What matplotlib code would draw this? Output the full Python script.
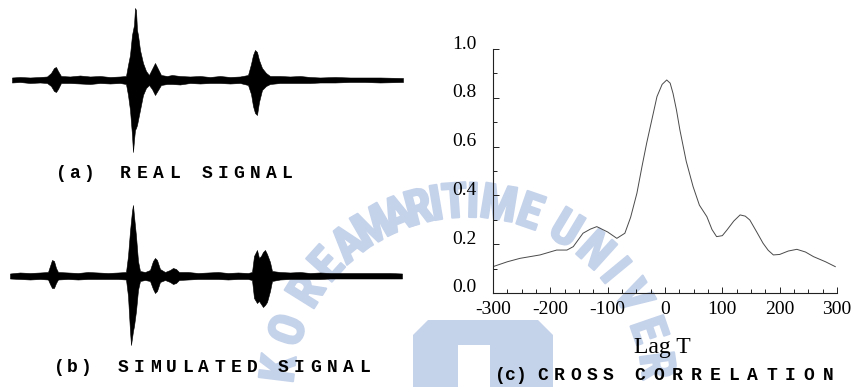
import matplotlib
matplotlib.use("Agg")
import matplotlib.pyplot as plt
import matplotlib.patheffects as pe
import numpy as np
from matplotlib.patches import Polygon
from matplotlib.transforms import IdentityTransform, ScaledTranslation

# envelope of the recorded trace (a): sample index, upper and lower excursion
s_real = [4, 12, 22, 32, 39, 43, 46, 48, 50, 53, 62, 72, 82, 92, 102, 112,
          118, 120, 122, 124, 125, 126, 127, 128, 129, 130, 132, 135, 138, 141,
          144, 147, 150, 153, 159, 164, 172, 182, 192, 202, 212, 222, 232, 240,
          243, 245, 247, 249, 251, 254, 258, 262, 272, 282, 292, 302, 312, 327,
          342, 357, 372, 395]
up_real = [2.5, 3, 2.5, 3, 3.5, 7, 12, 13, 9, 4, 3.5, 4.5, 3.5, 4, 3, 3.5,
           4, 15, 25, 45, 50, 55, 72, 70, 50, 45, 30, 17, 9, 5,
           11, 17, 11, 5, 4, 5, 4, 3.5, 4, 3, 4, 3, 3.5, 5,
           16, 25, 30, 28, 20, 12, 7, 4, 4, 3.5, 4, 3, 2.5, 3,
           2.5, 2.5, 2.5, 2]
lo_real = [2.5, 2, 3, 2.5, 3, 6, 11, 12, 9, 3, 3, 3.5, 4, 3, 3.5, 3,
           4, 15, 30, 55, 72, 60, 50, 48, 45, 40, 30, 15, 8, 5,
           9, 15, 10, 5, 4, 4, 4.5, 3, 3.5, 3, 3, 3.5, 3, 5,
           14, 26, 33, 35, 22, 10, 6, 4, 3, 3, 3, 3, 2.5, 2.5,
           2, 2, 2.5, 2]

# envelope of the simulated trace (b)
s_sim = [2, 12, 22, 32, 40, 42, 44, 46, 48, 50, 60, 70, 80, 90, 100, 110,
         118, 120, 122, 123, 124, 125, 126, 128, 130, 132, 137, 142, 145, 147,
         149, 152, 157, 162, 165, 168, 171, 180, 190, 200, 210, 220, 230, 240,
         244, 246, 249, 251, 253, 255, 257, 259, 262, 264, 272, 282, 292, 302,
         312, 322, 337, 352, 367, 382, 394]
up_sim = [2.5, 3.5, 3, 3.5, 4, 10, 16, 15, 8, 4, 3.5, 3, 4, 3.5, 3, 3.5,
          4, 20, 45, 55, 65, 71, 60, 40, 15, 5, 4, 6, 15, 18,
          16, 7, 4, 6, 8, 7, 4, 4, 3, 3.5, 4, 3, 3.5, 3,
          4, 20, 26, 18, 20, 24, 26, 22, 14, 5, 4, 3.5, 4, 3,
          3.5, 3, 3, 3, 3, 3, 2.5]
lo_sim = [2.5, 3, 3.5, 3, 3.5, 8, 12, 12, 7, 3.5, 3, 3.5, 3, 3, 3, 3,
          3.5, 20, 55, 69, 62, 55, 50, 35, 14, 5, 4, 5, 13, 17,
          15, 6, 4, 6, 8, 7, 4, 3.5, 3, 3, 3, 3.5, 3, 3,
          4, 22, 27, 25, 28, 31, 29, 26, 15, 5, 3.5, 3, 3, 3,
          3, 2.5, 2.5, 2.5, 2.5, 2.5, 2.5]

# cross correlation of the two traces
lag = [-300, -275, -253, -218, -189, -171, -160, -143, -130, -119, -100, -84,
       -70, -60, -49, -40, -32, -22, -14, -5, 3, 9, 14, 20, 26, 37, 49, 60,
       73, 82, 90, 100, 108, 120, 131, 140, 148, 160, 171, 180, 189, 200,
       215, 230, 245, 259, 280, 297]
corr = [0.108, 0.128, 0.142, 0.156, 0.176, 0.176, 0.19, 0.245, 0.262, 0.272,
        0.25, 0.224, 0.245, 0.31, 0.409, 0.52, 0.614, 0.72, 0.805, 0.855,
        0.873, 0.86, 0.818, 0.75, 0.668, 0.54, 0.436, 0.36, 0.313, 0.26,
        0.231, 0.235, 0.258, 0.295, 0.32, 0.315, 0.299, 0.25, 0.204, 0.175,
        0.156, 0.158, 0.172, 0.179, 0.168, 0.149, 0.128, 0.108]

lag_ticks = [-300, -200, -100, 0, 100, 200, 300]
corr_ticks = [0.0, 0.2, 0.4, 0.6, 0.8, 1.0]

W, H = 854, 387
fig = plt.figure(figsize=(W / 100, H / 100), dpi=100)
fig.patch.set_facecolor("white")


def px_box(x0, y0, x1, y1):
    # pixel box (top-left origin) -> figure fraction rect
    return [x0 / W, 1 - y1 / H, (x1 - x0) / W, (y1 - y0) / H]


def spaced(word, x_first, x_last, y, **kw):
    n = len(word)
    for i, ch in enumerate(word):
        x = x_first + (x_last - x_first) * i / max(n - 1, 1)
        fig.text(x / W, 1 - y / H, ch, ha="center", va="center", **kw)


# watermark behind everything
wm_color = "#c4d2ea"
wm_text = "KOREAMARITIMEUNIVERS"
wm_angle = [-83, -71, -58, -48, -39, -30, -21.7, -15, -9.6, -4, 1.5, 9.3,
            19, 31, 42, 50.5, 60, 71, 82, 93]
cx, cy, r = 468, 392, 188
for ch, a in zip(wm_text, wm_angle):
    t = np.radians(a)
    x = cx + r * np.sin(t)
    y = cy - r * np.cos(t)
    fig.text(x / W, 1 - y / H, ch, rotation=-a, rotation_mode="anchor",
             ha="center", va="center", fontsize=35, fontweight="heavy",
             family=["Roboto Condensed", "Liberation Sans Narrow",
                     "DejaVu Sans"],
             color=wm_color, zorder=-5,
             path_effects=[pe.withStroke(linewidth=1.5, foreground=wm_color)])

logo = [(413, 400), (413, 335), (428, 320), (538, 320), (553, 335),
        (553, 400), (490, 400), (490, 345), (458, 345), (458, 400)]
fig.add_artist(Polygon([(x, H - y) for x, y in logo], closed=True,
                       facecolor=wm_color, edgecolor="none",
                       transform=IdentityTransform(), zorder=-5))

# the two traces
for rect, s, up, lo in [(px_box(8, 1, 408, 159), s_real, up_real, lo_real),
                        (px_box(8, 197, 408, 355), s_sim, up_sim, lo_sim)]:
    ax = fig.add_axes(rect)
    ax.patch.set_alpha(0)
    ax.fill_between(s, -np.array(lo), up, color="black", lw=0.4)
    ax.set_xlim(0, 400)
    ax.set_ylim(-79, 79)
    ax.axis("off")

mono = dict(family=["Liberation Mono", "DejaVu Sans Mono"],
            fontweight="bold", fontsize=13)
spaced("(a)", 61, 89, 174, **mono)
spaced("REAL", 125, 175, 174, **mono)
spaced("SIGNAL", 207, 287, 174, **mono)
spaced("(b)", 59, 86, 367, **mono)
spaced("SIMULATED", 123, 252, 367, **mono)
spaced("SIGNAL", 283, 365, 367, **mono)
spaced("(c)", 500, 521, 375, **mono)
spaced("CROSS", 543, 608, 375, **mono)
spaced("CORRELATION", 640, 828, 375, **mono)

# cross correlation panel
serif = ["Liberation Serif", "DejaVu Serif"]
axc = fig.add_axes(px_box(493, 49, 837, 293))
axc.patch.set_alpha(0)
axc.plot(lag, corr, color="#4a4a4a", lw=0.7)
axc.set_xlim(-300, 300)
axc.set_ylim(0, 1.0)
for side in ["top", "right"]:
    axc.spines[side].set_visible(False)
for side in ["left", "bottom"]:
    axc.spines[side].set_linewidth(0.8)
    axc.spines[side].set_color("#222222")

axc.set_xticks(lag_ticks)
axc.set_xticklabels([str(v) for v in lag_ticks], family=serif, fontsize=14)
axc.set_xticks(np.arange(-300, 301, 25), minor=True)
axc.set_yticks(corr_ticks)
axc.set_yticklabels([f"{v:.1f}" for v in corr_ticks], family=serif, fontsize=14)
axc.set_yticks(np.arange(0, 1.01, 0.1), minor=True)
axc.tick_params(which="both", direction="in", color="#222222", width=0.7)
axc.tick_params(which="major", length=4)
axc.tick_params(which="minor", length=3)
axc.tick_params(axis="x", pad=6)
axc.tick_params(axis="y", pad=12)
for lbl in axc.get_yticklabels():
    lbl.set_transform(lbl.get_transform() +
                      ScaledTranslation(0, 7 / 100, fig.dpi_scale_trans))

fig.text(662 / W, 1 - 347 / H, "Lag T", ha="center", va="center",
         family=serif, fontsize=17)

fig.savefig("out.png", dpi=100)
